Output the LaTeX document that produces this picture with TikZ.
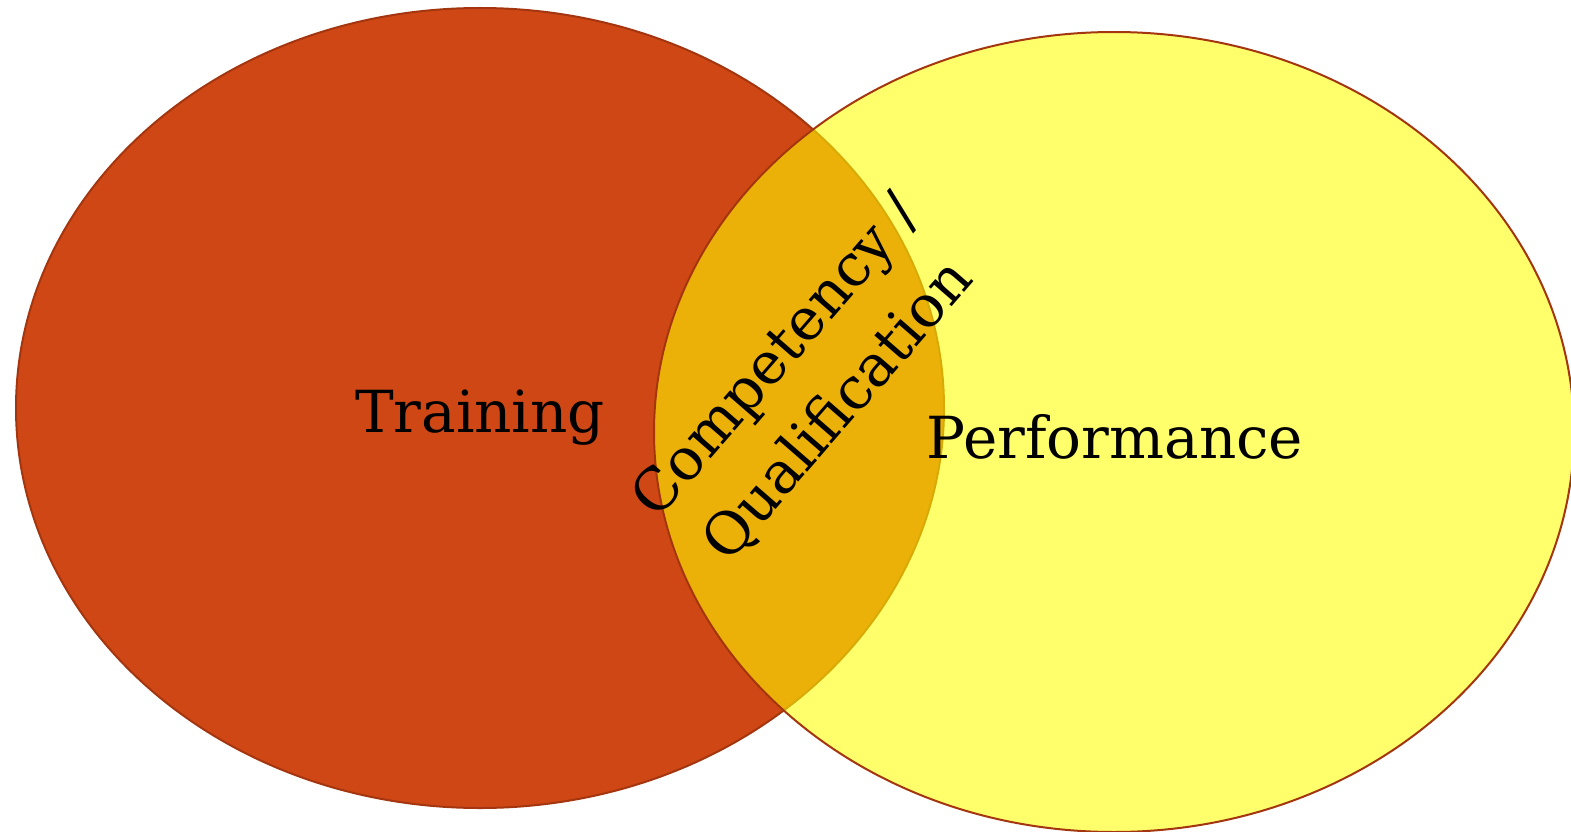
\documentclass[tikz,border=0pt]{standalone}
\usepackage{fontspec}
\setmainfont{DejaVu Serif}
\definecolor{trainfill}{HTML}{D04716}
\definecolor{rimline}{HTML}{A3360F}
\definecolor{perffill}{HTML}{FFFF00}
\begin{document}
\begin{tikzpicture}[x=1pt,y=-1pt,
  setlabel/.style={font=\fontsize{58}{70}\selectfont, text=black, inner sep=0pt},
  rim/.style={draw=rimline, line width=2pt}]
\useasboundingbox (0,0) rectangle (1571,832);
% Training set
\fill[trainfill] (480,408) ellipse [x radius=464, y radius=400];
\draw[rim] (480,408) ellipse [x radius=464, y radius=400];
% Performance set, translucent so the overlap shows through
\fill[perffill, fill opacity=0.58] (1114,432) ellipse [x radius=460, y radius=400];
\draw[rim] (1114,432) ellipse [x radius=460, y radius=400];
% labels
\node[setlabel, anchor=base] (training) at (480,432) {Training};
\node[setlabel, anchor=base] (performance) at (1115,458) {Performance};
\node[setlabel, rotate=49, align=center,
      font=\fontsize{58}{82}\selectfont] (overlap) at (808,384)
  {Competency /\\Qualification};
\end{tikzpicture}
\end{document}
